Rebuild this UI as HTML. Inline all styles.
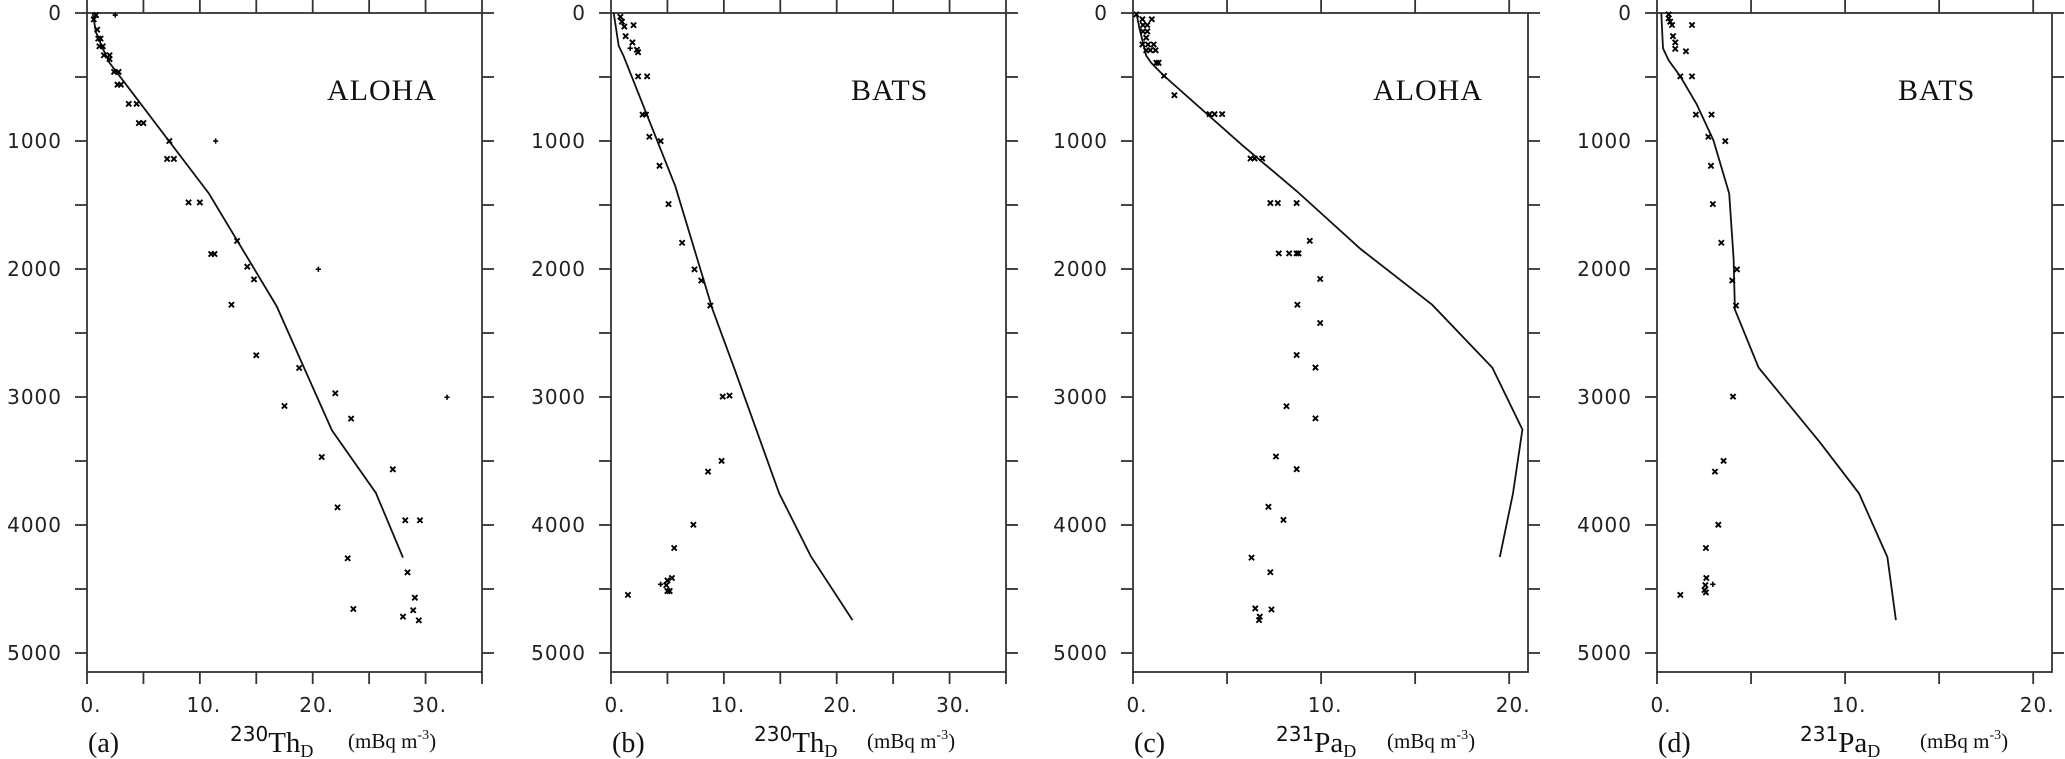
<!DOCTYPE html>
<html><head><meta charset="utf-8">
<style>
html,body{margin:0;padding:0;background:#fff;}
svg{display:block;}
.tick{font-family:"DejaVu Sans","Liberation Sans",sans-serif;font-size:20px;fill:#222;letter-spacing:1px;}
.ser{font-family:"Liberation Serif",serif;fill:#111;}
</style></head>
<body>
<svg id="chart" width="2065" height="759" viewBox="0 0 2065 759" xmlns="http://www.w3.org/2000/svg"></svg>
<script>
// ---- data ----
const depthTicks = [0, 500, 1000, 1500, 2000, 2500, 3000, 3500, 4000, 4500, 5000];
const depthTickLabels = ["0", "", "1000", "", "2000", "", "3000", "", "4000", "", "5000"];
const panelNames = ["a", "b", "c", "d"];
const panelSites = ["ALOHA", "BATS", "ALOHA", "BATS"];
const panelIsotopes = ["230", "230", "231", "231"];
const panelElements = ["Th", "Th", "Pa", "Pa"];
const panelXMax = [35, 35, 21, 21];
const xTickLabelsTh = ["0.", "10.", "20.", "30."];
const xTickValuesTh = [0, 10, 20, 30];
const xTickLabelsPa = ["0.", "10.", "20."];
const xTickValuesPa = [0, 10, 20];

// model lines: values and depths
const modelA_val = [0.5, 0.8, 1.3, 2.0, 10.8, 16.8, 21.7, 25.6, 28.0];
const modelA_dep = [0, 150, 260, 390, 1410, 2290, 3260, 3750, 4255];
const modelB_val = [0.24, 0.68, 1.1, 5.7, 9.0, 10.9, 14.9, 17.7, 21.4];
const modelB_dep = [0, 257, 333, 1353, 2317, 2770, 3753, 4244, 4743];
const modelC_val = [0.18, 0.35, 0.7, 0.97, 1.6, 5.8, 8.7, 12.1, 15.9, 19.1, 20.7, 20.2, 19.5];
const modelC_dep = [0, 125, 333, 389, 484, 1032, 1391, 1844, 2279, 2770, 3254, 3753, 4251];
const modelD_val = [0.23, 0.32, 0.62, 1.24, 2.1, 3.0, 3.84, 4.07, 4.14, 5.4, 8.67, 10.74, 12.25, 12.7];
const modelD_dep = [0, 276, 370, 495, 710, 994, 1410, 1920, 2317, 2770, 3356, 3753, 4251, 4743];

// observations
const obsA_val = [0.8, 0.6, 0.9, 1.0, 1.2, 1.1, 1.4, 1.5, 2.0, 2.0, 2.4, 2.8, 2.7, 3.0, 3.7, 4.4, 4.6, 5.0, 7.3, 7.1, 7.7, 9.0, 10.0, 13.3, 11.0, 11.3, 14.2, 14.8, 12.8, 15.0, 18.8, 22.0, 17.5, 23.4, 20.8, 27.1, 22.2, 28.2, 29.5, 23.1, 28.4, 23.6, 29.05, 28.9, 28.0, 29.4];
const obsA_dep = [16, 50, 130, 200, 200, 260, 260, 330, 330, 360, 460, 460, 560, 560, 710, 710, 860, 860, 1000, 1140, 1140, 1480, 1480, 1781, 1883, 1883, 1982, 2081, 2279, 2674, 2773, 2971, 3070, 3169, 3469, 3565, 3862, 3963, 3963, 4260, 4370, 4656, 4568, 4666, 4716, 4745];
const obsAplus_val = [2.5, 11.4, 20.5, 31.9];
const obsAplus_dep = [16, 1000, 2002, 3002];

const obsB_val = [0.83, 0.97, 1.18, 2.0, 1.3, 1.9, 2.3, 2.4, 2.4, 3.2, 2.8, 3.1, 3.4, 4.4, 4.3, 5.1, 6.3, 7.4, 8.0, 8.8, 9.9, 10.5, 9.8, 8.6, 7.3, 5.6, 4.9, 5.0, 5.4, 5.0, 5.2, 1.5];
const obsB_dep = [30, 68, 106, 95, 181, 230, 287, 306, 495, 495, 794, 794, 967, 1001, 1194, 1493, 1795, 2003, 2090, 2286, 2997, 2989, 3499, 3583, 3998, 4180, 4470, 4516, 4414, 4433, 4516, 4546];
const obsBplus_val = [1.7, 4.4];
const obsBplus_dep = [276, 4463];

const obsC_val = [0.18, 0.5, 1.0, 0.53, 0.76, 0.53, 0.76, 0.7, 0.5, 0.8, 1.1, 0.7, 0.92, 1.2, 1.24, 1.36, 1.65, 2.2, 4.07, 4.34, 4.74, 6.25, 6.46, 6.87, 7.3, 7.7, 8.7, 9.4, 7.75, 8.3, 8.7, 8.8, 9.95, 8.74, 9.95, 8.7, 9.7, 8.16, 9.7, 7.6, 8.7, 7.2, 8.0, 6.3, 7.3, 6.5, 7.36, 6.74, 6.7];
const obsC_dep = [11, 49, 49, 94, 94, 144, 144, 193, 246, 246, 246, 291, 291, 291, 389, 389, 491, 642, 790, 790, 790, 1137, 1137, 1137, 1485, 1485, 1485, 1780, 1878, 1878, 1878, 1878, 2078, 2279, 2422, 2672, 2770, 3072, 3167, 3465, 3564, 3858, 3960, 4255, 4369, 4652, 4660, 4716, 4743];

const obsD_val = [0.62, 0.62, 0.7, 0.8, 1.86, 0.85, 0.97, 0.97, 1.54, 1.24, 1.86, 2.07, 2.9, 2.73, 3.63, 2.87, 2.97, 3.42, 4.25, 4.0, 4.2, 4.04, 3.54, 3.08, 3.26, 2.6, 2.62, 2.57, 2.53, 2.6, 1.24];
const obsD_dep = [11, 42, 68, 94, 94, 181, 230, 280, 299, 495, 495, 794, 794, 967, 1001, 1194, 1493, 1795, 2003, 2090, 2286, 2997, 3499, 3583, 3998, 4180, 4414, 4470, 4508, 4527, 4546];
const obsDplus_val = [2.97];
const obsDplus_dep = [4463];

// ---- layout ----
const panelLeft = [87, 611, 1133, 1657];
const panelW = 395;
const TOP = 13, BOT = 672, Y0 = 13, PXPM = 0.128;
const NS = "http://www.w3.org/2000/svg";
const svg = document.getElementById('chart');

function mk(tag, attrs, parent) {
  const e = document.createElementNS(NS, tag);
  for (const k in attrs) e.setAttribute(k, attrs[k]);
  (parent || svg).appendChild(e);
  return e;
}
const yScale = d => Y0 + d * PXPM;

const models = [[modelA_val, modelA_dep], [modelB_val, modelB_dep], [modelC_val, modelC_dep], [modelD_val, modelD_dep]];
const obsX = [[obsA_val, obsA_dep], [obsB_val, obsB_dep], [obsC_val, obsC_dep], [obsD_val, obsD_dep]];
const obsP = [[obsAplus_val, obsAplus_dep], [obsBplus_val, obsBplus_dep], [[], []], [obsDplus_val, obsDplus_dep]];
const siteX = [327, 851, 1373, 1898];
const unitOff = [261, 256, 254, 263];

for (let p = 0; p < 4; p++) {
  const L = panelLeft[p], R = L + panelW;
  const xScale = v => L + v / panelXMax[p] * panelW;
  const g = mk('g', {});
  
  

  const frame = mk('rect', {x: L, y: TOP, width: panelW, height: BOT - TOP, fill: 'none', stroke: '#333', 'stroke-width': 1.8}, g);
  
  

  depthTicks.forEach((d, i) => {
    const y = yScale(d);
    const t1 = mk('line', {x1: L - 12, x2: L, y1: y, y2: y, stroke: '#333', 'stroke-width': 1.8}, g);
    
    
    const t2 = mk('line', {x1: R, x2: R + 12, y1: y, y2: y, stroke: '#333', 'stroke-width': 1.8}, g);
    
    
    if (depthTickLabels[i]) {
      const tx = mk('text', {x: L - 25, y: y + 7, 'text-anchor': 'end', class: 'tick'}, g);
      tx.textContent = depthTickLabels[i];
      
      
    }
  });
  for (let v = 0; v <= panelXMax[p]; v += 5) {
    const x = xScale(v);
    const a = mk('line', {x1: x, x2: x, y1: 0, y2: TOP, stroke: '#333', 'stroke-width': 1.8}, g);
    
    
    const b = mk('line', {x1: x, x2: x, y1: BOT, y2: BOT + 12, stroke: '#333', 'stroke-width': 1.8}, g);
    
    
  }
  const tv = p < 2 ? xTickValuesTh : xTickValuesPa;
  const tl = p < 2 ? xTickLabelsTh : xTickLabelsPa;
  tv.forEach((v, i) => {
    const tx = mk('text', {x: xScale(v) + 4, y: 712, 'text-anchor': 'middle', class: 'tick'}, g);
    tx.textContent = tl[i];
    
    
  });

  const mv = models[p][0], md = models[p][1];
  const pts = mv.map((v, i) => xScale(v).toFixed(1) + ',' + yScale(md[i]).toFixed(1)).join(' ');
  const pl = mk('polyline', {points: pts, fill: 'none', stroke: '#111', 'stroke-width': 1.8}, g);
  
  

  const ov = obsX[p][0], od = obsX[p][1];
  ov.forEach((v, i) => {
    const x = xScale(v), y = yScale(od[i]), s = 2.6;
    const m = mk('path', {d: `M${x-s},${y-s}L${x+s},${y+s}M${x-s},${y+s}L${x+s},${y-s}`, stroke: '#000', 'stroke-width': 1.9}, g);
    
    
  });
  const pv = obsP[p][0], pd = obsP[p][1];
  pv.forEach((v, i) => {
    const x = xScale(v), y = yScale(pd[i]), s = 2.6;
    const m = mk('path', {d: `M${x-s},${y}L${x+s},${y}M${x},${y-s}L${x},${y+s}`, stroke: '#000', 'stroke-width': 1.6}, g);
    
    
  });

  const st = mk('text', {x: siteX[p], y: 100, class: 'ser', 'font-size': 30, 'letter-spacing': 1}, g);
  st.textContent = panelSites[p];
  
  

  const pt = mk('text', {x: L + 1, y: 752, class: 'ser', 'font-size': 28}, g);
  pt.textContent = '(' + panelNames[p] + ')';
  
  

  const xt = mk('text', {x: L + 143, y: 752, class: 'ser'}, g);
  
  
  const s1 = mk('tspan', {'font-size': 20, dy: -11, 'font-family': 'DejaVu Sans, sans-serif'}, xt);
  s1.textContent = panelIsotopes[p];
  const s2 = mk('tspan', {'font-size': 29, dy: 11}, xt);
  s2.textContent = panelElements[p];
  const s3 = mk('tspan', {'font-size': 18, dy: 5}, xt);
  s3.textContent = 'D';
  const u = mk('text', {x: L + unitOff[p], y: 748, class: 'ser', 'font-size': 21}, g);
  
  
  const u1 = mk('tspan', {}, u); u1.textContent = '(mBq m';
  const u2 = mk('tspan', {'font-size': 14, dy: -9}, u); u2.textContent = '-3';
  const u3 = mk('tspan', {dy: 9}, u); u3.textContent = ')';
}
</script>
</body></html>
